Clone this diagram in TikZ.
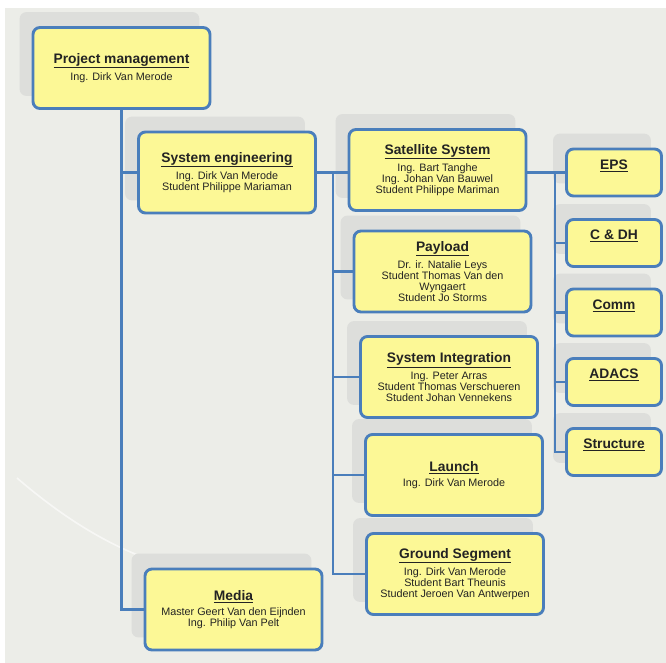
\documentclass[tikz,border=0pt]{standalone}
\usepackage{fontspec}
\setmainfont{Liberation Sans}
\usepackage{xcolor}
\usepackage{tikz}
\usetikzlibrary{calc, backgrounds}

\definecolor{linkblue}{RGB}{74,126,187}
\definecolor{boxyellow}{RGB}{252,248,150}
\definecolor{bggray}{RGB}{236,237,232}
\definecolor{shadegray}{RGB}{221,222,219}
\definecolor{inkgray}{RGB}{35,35,35}

\newcommand{\ttl}[1]{{\fontsize{13.8}{15}\selectfont\bfseries\underline{#1}}}

\begin{document}
\begin{tikzpicture}[x=1pt, y=-1pt,
    box/.style={draw=linkblue, line width=2.9pt, fill=boxyellow, rounded corners=7pt,
      minimum width=177pt, minimum height=81pt, inner sep=0pt, align=center,
      text=inkgray, font=\fontsize{10.8}{11}\selectfont},
    unitbox/.style={box, minimum width=95pt, minimum height=47pt, text depth=16pt},
    link/.style={draw=linkblue, line width=2.9pt},
    backshade/.style={fill=shadegray, rounded corners=7pt}]
  \useasboundingbox (0,0) rectangle (666,663);

  % left column
  \node[box] (pm)  at (121.5,68)  {\ttl{Project management}\\[3.5pt]Ing. Dirk Van Merode};
  \node[box] (se)  at (227,172.5) {\ttl{System engineering}\\[3.5pt]Ing. Dirk Van Merode\\Student Philippe Mariaman};
  \node[box] (med) at (233.5,609.5) {\ttl{Media}\\[3.5pt]Master Geert Van den Eijnden\\Ing. Philip Van Pelt};

  % middle column
  \node[box] (sat) at (437.5,170) {\ttl{Satellite System}\\[3.5pt]Ing. Bart Tanghe\\Ing. Johan Van Bauwel\\Student Philippe Mariman};
  \node[box] (pay) at (442.5,271.5) {\ttl{Payload}\\[3.5pt]Dr. ir. Natalie Leys\\Student Thomas Van den\\Wyngaert\\Student Jo Storms};
  \node[box] (si)  at (449,377)   {\ttl{System Integration}\\[3.5pt]Ing. Peter Arras\\Student Thomas Verschueren\\Student Johan Vennekens};
  \node[box] (lau) at (454,475)   {\ttl{Launch}\\[3.5pt]Ing. Dirk Van Merode};
  \node[box] (gs)  at (455,574)   {\ttl{Ground Segment}\\[3.5pt]Ing. Dirk Van Merode\\Student Bart Theunis\\Student Jeroen Van Antwerpen};

  % subsystems
  \node[unitbox] (eps)  at (614,172.5) {\ttl{EPS}};
  \node[unitbox] (cdh)  at (614,243)   {\ttl{C \& DH}};
  \node[unitbox] (comm) at (614,312.5) {\ttl{Comm}};
  \node[unitbox] (adcs) at (614,382)   {\ttl{ADACS}};
  \node[unitbox] (strc) at (614,452)   {\ttl{Structure}};

  % connectors
  \coordinate (busl) at (333,172.5);
  \coordinate (busr) at (555,172.5);
  \draw[link] (pm.south) |- (med.west);
  \draw[link] (se.west) -- (se.west -| pm.south);
  \draw[link] (se.east) -- (busl |- se.east) -- (sat.west |- se.east);
  \draw[link] (busl) |- (gs.west);
  \foreach \n in {pay,si,lau}
    \draw[link] (\n.west) -- (\n.west -| busl);
  \draw[link] (sat.east |- eps.west) -- (eps.west);
  \draw[link] (busr) |- (strc.west);
  \foreach \n in {cdh,comm,adcs}
    \draw[link] (\n.west) -- (\n.west -| busr);

  % backdrop
  \begin{scope}[on background layer]
    \fill[white] (0,0) rectangle (666,663);
    \fill[bggray] (5,8) rectangle (666,663);
    \draw[white, line width=1.6pt, opacity=.6] (17,478) .. controls (60,515) and (100,540) .. (140,556);
    \foreach \n in {pm,se,med,sat,pay,si,lau,gs,eps,cdh,comm,adcs,strc}
      \fill[backshade] ($(\n.north west)+(-12,-14)$) rectangle ($(\n.south east)+(-12,-14)$);
  \end{scope}
\end{tikzpicture}
\end{document}
